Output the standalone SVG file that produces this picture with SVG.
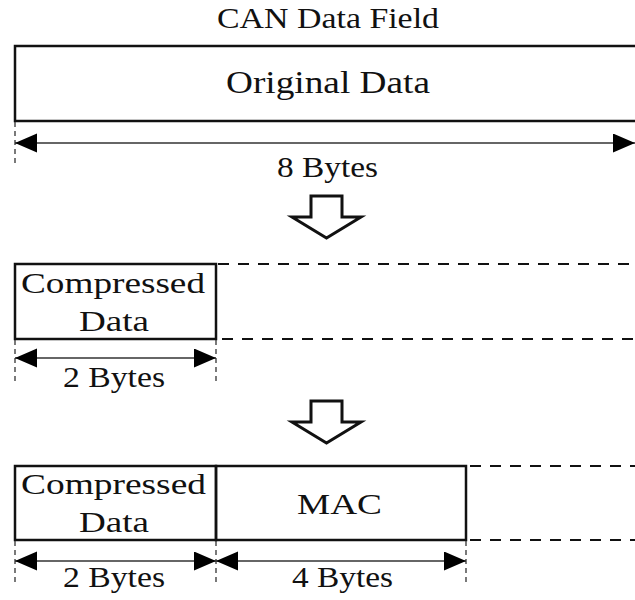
<svg xmlns="http://www.w3.org/2000/svg" width="635" height="600" viewBox="0 0 635 600">
  <style>
    .box { fill: none; stroke: #111; stroke-width: 2.5; }
    .open { fill: none; stroke: #111; stroke-width: 2; stroke-dasharray: 11 9; }
    .tick { fill: none; stroke: #222; stroke-width: 1.2; stroke-dasharray: 5 4; }
    .dim { fill: none; stroke: #333; stroke-width: 1.6; marker-start: url(#head); marker-end: url(#head); }
    .hollow { fill: #fff; stroke: #111; stroke-width: 3; stroke-linejoin: miter; }
    text { font-family: "Liberation Serif", "Times New Roman", serif; font-size: 30px; fill: #111; }
    .big { font-size: 32px; }
  </style>
  <defs>
    <marker id="head" markerUnits="userSpaceOnUse" markerWidth="23" markerHeight="20" refX="22" refY="9.5" orient="auto-start-reverse">
      <path d="M0,0 L22,9.5 L0,19 z" fill="#000"/>
    </marker>
  </defs>

  <rect width="635" height="600" fill="#fff"/>

  <text x="217" y="28" textLength="222" lengthAdjust="spacingAndGlyphs">CAN Data Field</text>

  <!-- full 8-byte field -->
  <g id="original-data">
    <path class="box" d="M640,46 H15 V121 H640"/>
    <text class="big" x="226" y="93" textLength="204" lengthAdjust="spacingAndGlyphs">Original Data</text>
  </g>

  <!-- hollow step arrows -->
  <g id="step-1">
    <polygon class="hollow" points="311,196 342,196 342,217 361,217 326.5,238 292,217 311,217"/>
  </g>
  <g id="step-2">
    <polygon class="hollow" points="311,401 342,401 342,422 361,422 326.5,443 292,422 311,422"/>
  </g>

  <!-- compressed frame -->
  <g id="compressed-1">
    <rect class="box" x="15" y="264" width="201" height="75"/>
    <text x="21" y="293" textLength="184" lengthAdjust="spacingAndGlyphs">Compressed</text>
    <text x="79" y="331" textLength="70" lengthAdjust="spacingAndGlyphs">Data</text>
  </g>

  <!-- compressed + MAC frame -->
  <g id="compressed-2">
    <rect class="box" x="15" y="466" width="201" height="74"/>
    <text x="21" y="494" textLength="185" lengthAdjust="spacingAndGlyphs">Compressed</text>
    <text x="79" y="532" textLength="70" lengthAdjust="spacingAndGlyphs">Data</text>
  </g>
  <g id="mac">
    <rect class="box" x="216" y="466" width="250" height="74"/>
    <text x="297" y="514" textLength="85" lengthAdjust="spacingAndGlyphs">MAC</text>
  </g>

  <!-- unused remainder of the field and dimension lines -->
  <g id="connectors">
    <line class="open" x1="218" y1="264" x2="640" y2="264"/>
    <line class="open" x1="222" y1="339" x2="640" y2="339"/>
    <line class="open" x1="470" y1="466" x2="640" y2="466"/>
    <line class="open" x1="470" y1="540" x2="640" y2="540"/>

    <line class="tick" x1="15" y1="122" x2="15" y2="164"/>
    <line class="tick" x1="15" y1="340" x2="15" y2="382"/>
    <line class="tick" x1="216" y1="340" x2="216" y2="382"/>
    <line class="tick" x1="15" y1="541" x2="15" y2="584"/>
    <line class="tick" x1="216" y1="541" x2="216" y2="584"/>
    <line class="tick" x1="466" y1="541" x2="466" y2="584"/>

    <line class="dim" x1="15" y1="143" x2="635" y2="143"/>
    <line class="dim" x1="15" y1="358" x2="216" y2="358"/>
    <line class="dim" x1="15" y1="561" x2="216" y2="561"/>
    <line class="dim" x1="216" y1="561" x2="466" y2="561"/>
  </g>

  <text x="277" y="177" textLength="101" lengthAdjust="spacingAndGlyphs">8 Bytes</text>
  <text x="63" y="387" textLength="102" lengthAdjust="spacingAndGlyphs">2 Bytes</text>
  <text x="63" y="587" textLength="102" lengthAdjust="spacingAndGlyphs">2 Bytes</text>
  <text x="292" y="587" textLength="101" lengthAdjust="spacingAndGlyphs">4 Bytes</text>
</svg>
